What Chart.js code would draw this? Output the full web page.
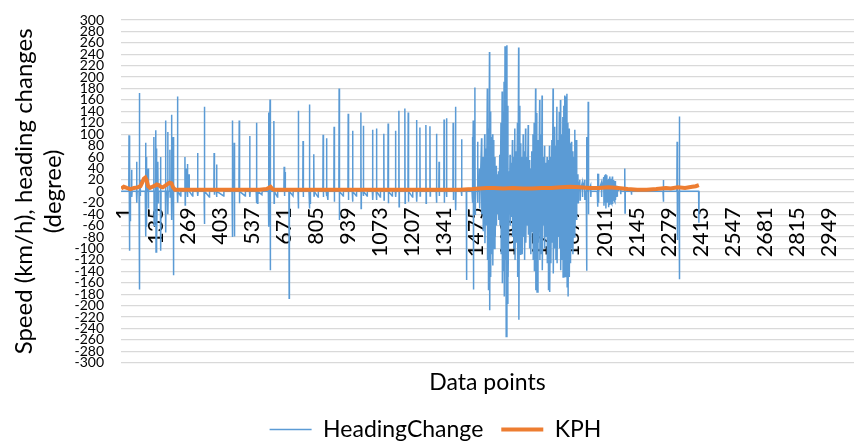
<!DOCTYPE html>
<html><head><meta charset="utf-8">
<script src="https://cdn.jsdelivr.net/npm/chart.js@4.4.1/dist/chart.umd.min.js"></script>
<style>
html,body{margin:0;padding:0;background:#fff;overflow:hidden;width:854px;height:444px}
#wrap{position:absolute;left:0;top:0;width:854px;height:451px}
</style>
</head><body><div id="wrap"><canvas id="c"></canvas></div>
<script>
// x-axis tick labels (data point numbers)
const tickLabels = [1,135,269,403,537,671,805,939,1073,1207,1341,1475,1609,1743,1877,2011,2145,2279,2413,2547,2681,2815,2949];

// HeadingChange: [data point, degrees]
const headingChangePoints = [
[1,0],
[33,0],[34,98],[35,-104],[36,0],
[37,0],[38,52],[39,-51],[40,0],
[44,0],[45,38],[46,-10],[47,0],
[65,0],[66,52],[67,-20],[68,0],
[76,0],[77,172],[78,-172],[79,0],
[80,20],[81,-8],[82,0],
[102,0],[103,85],[104,-79],[105,0],
[106,60],[107,-62],[108,0],
[113,0],[114,40],[115,-30],[116,0],
[137,0],[138,95],[139,-60],[140,0],
[145,0],[146,107],[147,-106],[148,0],
[149,0],[150,75],[151,-88],[152,0],
[154,0],[155,52],[156,-20],[157,0],
[165,0],[166,60],[167,-104],[168,0],
[186,0],[187,124],[188,-72],[189,0],
[195,0],[196,104],[197,-40],[198,0],
[204,0],[205,73],[206,-10],[207,0],
[211,0],[212,134],[213,-50],[214,0],
[218,0],[219,95],[220,-147],[221,0],
[236,0],[237,166],[238,-20],[239,0],
[250,-8],[251,0],
[267,0],[268,60],[269,-24],[270,0],
[273,0],[274,40],[275,0],
[277,0],[278,48],[279,-10],[280,0],
[284,0],[285,30],[286,0],
[300,-8],[301,0],
[320,0],[321,67],[322,-8],[323,0],
[348,0],[349,148],[350,-57],[351,0],
[370,-10],[371,0],
[389,0],[390,67],[391,-6],[392,0],
[399,0],[400,47],[401,-10],[402,0],
[430,-8],[431,0],
[465,0],[466,124],[467,-80],[468,0],
[473,0],[474,85],[475,-79],[476,0],
[494,0],[495,124],[496,-21],[497,0],
[520,-8],[521,0],
[538,0],[539,97],[540,-10],[541,0],
[566,0],[567,120],[568,-21],[569,0],
[572,-21],[573,0],
[590,-6],[591,0],
[617,0],[618,138],[619,-62],[620,0],
[623,0],[624,161],[625,-138],[626,0],
[639,0],[640,123],[641,-21],[642,0],
[655,-10],[656,0],
[682,0],[683,43],[684,-8],[685,0],
[686,0],[687,34],[688,0],
[703,0],[704,-187],[705,0],
[720,-8],[721,0],
[741,0],[742,141],[743,-30],[744,0],
[761,0],[762,88],[763,-10],[764,0],
[787,0],[788,152],[789,-30],[790,0],
[791,0],[792,-21],[793,0],
[806,0],[807,65],[808,-8],[809,0],
[825,-10],[826,0],
[845,0],[846,99],[847,-10],[848,0],
[859,0],[860,93],[861,-8],[862,0],
[866,-15],[867,0],
[891,0],[892,113],[893,-18],[894,0],
[912,0],[913,180],[914,-50],[915,0],
[930,-8],[931,0],
[950,0],[951,136],[952,-15],[953,0],
[968,0],[969,106],[970,-18],[971,0],
[985,-8],[986,0],
[1003,0],[1004,138],[1005,-30],[1006,0],
[1013,0],[1014,115],[1015,-8],[1016,0],
[1030,-8],[1031,0],
[1052,0],[1053,108],[1054,-15],[1055,0],
[1068,0],[1069,110],[1070,-15],[1071,0],
[1085,-10],[1086,0],
[1099,0],[1100,101],[1101,-15],[1102,0],
[1117,0],[1118,119],[1119,-21],[1120,0],
[1135,-8],[1136,0],
[1148,0],[1149,106],[1150,-10],[1151,0],
[1162,0],[1163,141],[1164,-27],[1165,0],
[1187,0],[1188,145],[1189,-21],[1190,0],
[1201,0],[1202,138],[1203,-18],[1204,0],
[1220,-10],[1221,0],
[1236,0],[1237,125],[1238,-18],[1239,0],
[1250,0],[1251,112],[1252,-8],[1253,0],
[1275,0],[1276,116],[1277,-21],[1278,0],
[1292,0],[1293,114],[1294,-8],[1295,0],
[1319,0],[1320,101],[1321,-20],[1322,0],
[1330,0],[1331,52],[1332,-8],[1333,0],
[1351,0],[1352,126],[1353,-20],[1354,0],
[1361,0],[1362,128],[1363,-10],[1364,0],
[1389,0],[1390,120],[1391,-15],[1392,0],
[1399,0],[1400,148],[1401,-33],[1402,0],
[1424,0],[1425,91],[1426,-8],[1427,0],
[1445,0],[1446,-155],[1447,0],
[1469,0],[1470,95],[1471,-20],[1472,0],
[1473,0],[1474,124],[1475,-172],[1476,0],
[1480,0],[1481,182],[1482,-40],[1483,0],
[1491,0],[1492,87],[1493,-20],[1494,0],
[1498,0],[1500,40],[1501,-30],[1509,93],[1510,-40],[1515,60],[1516,-70],[1522,100],[1523,-91],
[1528,75],[1529,-60],[1533,180],[1534,-120],[1537,110],[1538,-173],[1542,244],[1543,-208],
[1546,140],[1547,-150],[1550,95],[1551,-110],[1555,100],[1556,-130],[1560,90],[1561,-100],
[1565,60],[1566,-80],[1570,45],[1571,-60],[1575,30],[1576,-40],[1580,35],[1581,-50],
[1585,64],[1586,-60],[1590,120],[1591,-110],[1595,175],[1596,-161],[1599,140],[1600,-140],
[1603,192],[1604,-184],[1607,254],[1608,-120],[1611,200],[1612,-254],[1615,256],[1616,-196],
[1619,150],[1620,-150],[1624,35],[1625,-40],[1628,64],[1629,-60],[1633,50],[1634,-45],
[1638,90],[1639,-80],[1643,60],[1644,-100],[1648,110],[1649,-120],[1653,70],[1654,-90],
[1659,120],[1660,-150],[1664,252],[1665,-225],[1669,150],[1670,-110],[1673,84],[1674,-100],
[1678,60],[1679,-110],[1683,100],[1684,-80],[1688,70],[1689,-120],[1693,110],[1694,-90],
[1698,60],[1699,-60],[1704,116],[1705,-76],[1709,55],[1710,-100],[1714,40],[1715,-110],
[1719,70],[1720,-70],[1724,100],[1725,-120],[1729,120],[1730,-140],[1735,180],[1736,-173],
[1740,137],[1741,-176],[1745,90],[1746,-90],[1752,160],[1753,-120],[1757,100],[1758,-110],
[1762,168],[1763,-138],[1767,60],[1768,-60],[1772,80],[1773,-100],[1777,50],[1778,-80],
[1783,60],[1784,-126],[1788,55],[1789,-173],[1793,80],[1794,-176],[1798,60],[1799,-126],
[1803,90],[1804,-90],[1808,180],[1809,-144],[1814,113],[1815,-100],[1819,80],[1820,-120],
[1824,148],[1825,-126],[1829,90],[1830,-80],[1834,139],[1835,-100],[1839,160],[1840,-138],
[1844,100],[1845,-120],[1849,130],[1850,-150],[1853,150],[1854,-120],[1857,168],[1858,-149],
[1861,166],[1862,-130],[1866,171],[1867,-167],[1870,120],[1871,-184],[1875,110],[1876,-150],
[1880,84],[1881,-126],[1885,87],[1886,-100],[1890,70],[1891,-110],[1895,60],[1896,-80],
[1899,108],[1900,-64],[1905,90],[1906,-50],[1908,0],
[1912,30],[1913,-20],[1914,0],[1920,20],[1921,-15],[1922,0],[1930,15],[1931,-10],[1932,0],
[1940,20],[1941,-15],[1942,0],
[1947,0],[1948,95],[1949,-139],[1950,0],
[1954,0],[1955,157],[1956,-40],[1957,0],
[1965,10],[1966,-10],[1967,0],
[1993,0],[1994,31],[1995,-27],[1996,0],
[1997,31],[1998,-20],[1999,0],[2010,15],[2011,-10],[2012,0],
[2020,25],[2021,-25],[2024,28],[2025,-20],[2028,30],[2029,-30],[2033,28],[2034,-20],
[2038,20],[2039,-28],[2042,22],[2043,-15],[2045,26],[2046,-24],[2050,22],[2051,-20],
[2053,15],[2054,-22],[2056,26],[2057,-22],[2060,18],[2061,-12],[2062,20],[2063,-15],
[2066,12],[2067,-18],[2068,18],[2069,-15],[2072,8],[2073,-10],[2075,10],[2076,-8],[2077,0],
[2090,5],[2091,-5],[2092,0],
[2107,0],[2108,40],[2109,-38],[2110,0],
[2135,0],[2136,-6],[2137,0],
[2268,0],[2269,20],[2270,-18],[2271,0],
[2326,0],[2327,87],[2328,-85],[2329,0],
[2335,0],[2336,131],[2337,-154],[2338,0],
[2417,0],[2418,-55],[2419,0]
];

// KPH: [data point, km/h]
const kphPoints = [
[1,5],[12,8],[25,6],[40,4],[55,6],[70,7],[82,9],[90,16],[96,22],[102,24],[108,19],[114,9],
[122,6],[132,8],[142,10],[150,12],[158,11],[166,8],[175,7],[186,10],[196,13],[204,15],
[212,14],[218,7],[226,3],[240,3],[280,3],[330,3],[380,3],[430,3],[480,3],[530,3],[580,3],
[610,4],[618,6],[626,8],[634,4],[640,3],[700,3],[760,3],[820,3],[880,3],[940,3],[1000,3],
[1060,3],[1120,3],[1180,3],[1240,3],[1300,3],[1360,3],[1420,3],[1470,4],[1500,5],[1530,6],
[1560,6],[1600,5],[1640,6],[1680,5],[1720,5],[1760,6],[1800,6],[1840,7],[1880,8],[1920,7],
[1960,6],[2000,6],[2040,7],[2080,6],[2120,4],[2160,3],[2200,3],[2240,4],[2280,6],[2300,5],
[2330,7],[2360,6],[2390,8],[2405,9],[2418,11]
];

const FONT = 'Lato, "Open Sans", sans-serif';

// shift the bottom legend so that it sits where the reference legend is
const legendShift = {
  id: 'legendShift',
  afterLayout(chart) { if (chart.legend) { chart.legend.left += 8.5; chart.legend.right += 8.5; } }
};

new Chart(document.getElementById('c'), {
  type: 'line',
  data: {
    datasets: [
      {label: 'HeadingChange', data: headingChangePoints.map(p => ({x: p[0], y: p[1]})),
       borderColor: '#5b9bd5', backgroundColor: '#5b9bd5', borderWidth: 1.5,
       pointRadius: 0, tension: 0, order: 2, xAxisID: 'x', yAxisID: 'y'},
      {label: 'KPH', data: kphPoints.map(p => ({x: p[0], y: p[1]})),
       borderColor: '#ed7d31', backgroundColor: '#ed7d31', borderWidth: 4,
       pointRadius: 0, tension: 0, order: 1, xAxisID: 'x', yAxisID: 'y'}
    ]
  },
  options: {
    responsive: true, maintainAspectRatio: false, animation: false,
    layout: {padding: {left: 0, right: 0, top: 20, bottom: 0}},
    scales: {
      x: {
        type: 'linear', min: 0.5, max: 3067, position: {y: 0},
        grid: {display: false, drawTicks: false},
        border: {display: true, color: '#d9d9d9'},
        afterBuildTicks: (s) => { s.ticks = tickLabels.map(v => ({value: v})); },
        afterFit: (s) => { s.paddingLeft = 0; s.paddingRight = 0; },
        ticks: {autoSkip: false, minRotation: 90, maxRotation: 90, padding: 16, labelOffset: 3,
                color: '#000', font: {family: FONT, size: 21.5}, callback: (v) => String(v)}
      },
      x2: {
        type: 'linear', position: 'bottom', min: 0, max: 1,
        grid: {display: false, drawTicks: false}, border: {display: false},
        ticks: {display: false},
        title: {display: true, text: 'Data points', color: '#000',
                font: {family: FONT, size: 23}, padding: {top: 6.5, bottom: 3.2}}
      },
      y: {
        type: 'linear', min: -300, max: 300, position: 'left',
        grid: {color: '#d9d9d9', lineWidth: 1.3, drawTicks: false},
        border: {display: false},
        afterFit: (s) => { s.width = 121; s.paddingTop = 0; s.paddingBottom = 0; },
        ticks: {stepSize: 20, autoSkip: false, padding: 17, color: '#000',
                font: {family: FONT, size: 14}},
        title: {display: true, text: ['Speed (km/h), heading changes', '(degree)'], color: '#000',
                font: {family: FONT, size: 24}, padding: {top: 10, bottom: 6}}
      }
    },
    plugins: {
      tooltip: {enabled: false},
      legend: {
        position: 'bottom',
        labels: {usePointStyle: true, pointStyle: 'line', pointStyleWidth: 42, padding: 18,
                 color: '#000', font: {family: FONT, size: 23},
                 sort: (a, b) => a.datasetIndex - b.datasetIndex}
      }
    }
  },
  plugins: [legendShift]
});
</script>
</body></html>
